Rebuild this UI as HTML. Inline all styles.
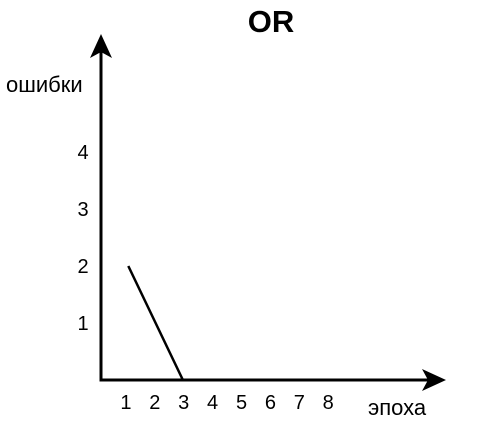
<!DOCTYPE html>
<html><head><meta charset="utf-8"><style>
html,body{margin:0;padding:0;background:#fff;}
svg{display:block;font-family:"Liberation Sans",Arial,sans-serif;}
</style></head><body>
<svg id="chart" width="501" height="431" viewBox="0 0 501 431" xmlns="http://www.w3.org/2000/svg">
<text x="271" y="32" text-anchor="middle" font-size="31" font-weight="bold">OR</text>
<line x1="101" y1="381" x2="101" y2="50" stroke="#000" stroke-width="3"/>
<polygon points="101,34 90,58 101,52 112,58" fill="#000"/>
<line x1="99.5" y1="380" x2="430" y2="380" stroke="#000" stroke-width="3"/>
<polygon points="446,380 422,369 428,380 422,391" fill="#000"/>
<text x="6" y="92" font-size="22">ошибки</text>
<text x="368" y="415" font-size="22">эпоха</text>
<g id="ticks"></g>
<g id="series"></g>
</svg>
<script>
const epochs=[1,2,3,4,5,6,7,8];
const errors=[2,1,0,0,0,0,0,0];
const xTicks=["1","2","3","4","5","6","7","8"];
const yTickValues=[1,2,3,4];
const yTicks=["1","2","3","4"];
const NS="http://www.w3.org/2000/svg";
function xScale(v){return 101+v*27.3;}
function xLabel(v){return 97+v*28.9;}
function yScale(v){return 380-v*57;}
const tg=document.getElementById('ticks');
xTicks.forEach((t,i)=>{
  const el=document.createElementNS(NS,'text');
  el.setAttribute('x',xLabel(epochs[i]));
  el.setAttribute('y',409);
  el.setAttribute('text-anchor','middle');
  el.setAttribute('font-size','20');
  el.textContent=t;
  
  
  tg.appendChild(el);
});
yTicks.forEach((t,i)=>{
  const el=document.createElementNS(NS,'text');
  el.setAttribute('x',83);
  el.setAttribute('y',yScale(yTickValues[i])+7);
  el.setAttribute('text-anchor','middle');
  el.setAttribute('font-size','20');
  el.textContent=t;
  
  
  tg.appendChild(el);
});
const pts=epochs.map((e,i)=>xScale(e)+','+yScale(errors[i])).join(' ');
const pl=document.createElementNS(NS,'polyline');
pl.setAttribute('points',pts);
pl.setAttribute('fill','none');
pl.setAttribute('stroke','#000');
pl.setAttribute('stroke-width','2.5');


document.getElementById('series').appendChild(pl);
</script>
</body></html>
